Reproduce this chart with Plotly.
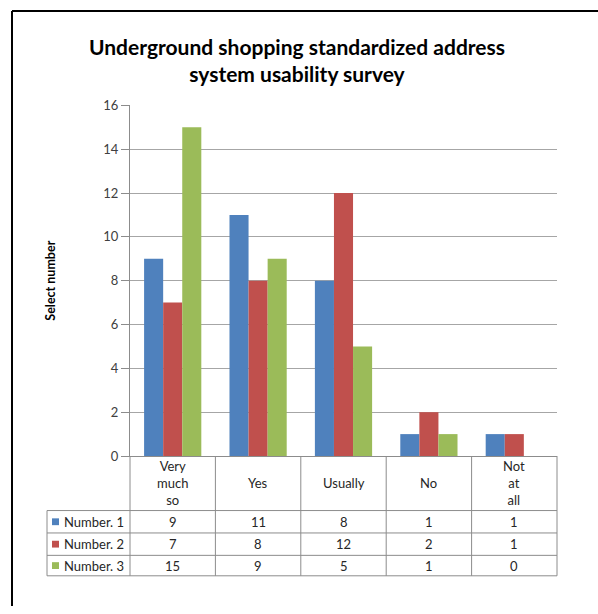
import plotly.graph_objects as go

categories = ["Very much so", "Yes", "Usually", "No", "Not at all"]
header_labels = ["Very<br>much<br>so", "Yes", "Usually", "No", "Not<br>at<br>all"]
series_names = ["Number. 1", "Number. 2", "Number. 3"]
number1 = [9, 11, 8, 1, 1]
number2 = [7, 8, 12, 2, 1]
number3 = [15, 9, 5, 1, 0]
series_values = [number1, number2, number3]
colors = ["#4F81BD", "#C0504D", "#9BBB59"]
y_ticks = [0, 2, 4, 6, 8, 10, 12, 14, 16]

W, H = 598, 614
FONT = "Lato"
GRID = "#a6a6a6"
TBL = "#8c8c8c"


def px(x):
    return x / W


def py(y):
    return 1 - y / H


fig = go.Figure()
for name, vals, col in zip(series_names, series_values, colors):
    fig.add_trace(go.Bar(x=categories, y=vals, name=name, marker=dict(color=col, line=dict(width=0))))

shapes = []
annotations = []

# outer frame (top & left)
shapes.append(dict(type="line", xref="paper", yref="paper", x0=px(12), x1=1, y0=py(3), y1=py(3),
                   line=dict(color="black", width=2)))
shapes.append(dict(type="line", xref="paper", yref="paper", x0=px(12), x1=px(12), y0=py(3), y1=0,
                   line=dict(color="black", width=2)))

# data table geometry
x_left, x_axis, x_right = 47, 130, 557
y_top, y_head, rows = 460, 516, [516, 539, 562, 583]
n = len(categories)
cw = (x_right - x_axis) / n

for yy in rows:
    shapes.append(dict(type="line", xref="paper", yref="paper", x0=px(x_left), x1=px(x_right),
                       y0=py(yy), y1=py(yy), line=dict(color=TBL, width=1)))
shapes.append(dict(type="line", xref="paper", yref="paper", x0=px(x_left), x1=px(x_left),
                   y0=py(y_head), y1=py(rows[-1]), line=dict(color=TBL, width=1)))
for i in range(n + 1):
    xx = x_axis + i * cw
    shapes.append(dict(type="line", xref="paper", yref="paper", x0=px(xx), x1=px(xx),
                       y0=py(y_top), y1=py(rows[-1]), line=dict(color=TBL, width=1)))

# header labels
for i, lab in enumerate(header_labels):
    annotations.append(dict(x=i, xref="x", y=py((y_top + y_head) / 2), yref="paper", text=lab,
                            showarrow=False, xanchor="center", yanchor="middle",
                            font=dict(family=FONT, size=13, color="#262626")))

# rows
for r, (name, vals, col) in enumerate(zip(series_names, series_values, colors)):
    yc = (rows[r] + rows[r + 1]) / 2
    shapes.append(dict(type="rect", xref="paper", yref="paper", x0=px(52), x1=px(59),
                       y0=py(yc + 3.5), y1=py(yc - 3.5), fillcolor=col, line=dict(width=0)))
    annotations.append(dict(x=px(62), xref="paper", y=py(yc), yref="paper", text=name,
                            showarrow=False, xanchor="left", yanchor="middle",
                            font=dict(family=FONT, size=13, color="#262626")))
    for i, v in enumerate(vals):
        annotations.append(dict(x=i, xref="x", y=py(yc), yref="paper", text=str(v),
                                showarrow=False, xanchor="center", yanchor="middle",
                                font=dict(family=FONT, size=13, color="#262626")))

# title
annotations.append(dict(x=px(297), xref="paper", y=py(53), yref="paper",
                        text="<b>Underground shopping standardized address<br>system usability survey</b>",
                        showarrow=False, xanchor="center", yanchor="middle",
                        font=dict(family=FONT, size=21, color="black")))
# y title
annotations.append(dict(x=px(51), xref="paper", y=py(280), yref="paper", text="<b>Select number</b>",
                        textangle=-90, showarrow=False, xanchor="center", yanchor="middle",
                        font=dict(family=FONT, size=12.5, color="black")))

fig.update_layout(
    width=W, height=H,
    margin=dict(l=0, r=0, t=0, b=0),
    paper_bgcolor="white", plot_bgcolor="white",
    barmode="group", bargap=0.33, bargroupgap=0,
    showlegend=False,
    shapes=shapes, annotations=annotations,
    xaxis=dict(domain=[px(x_axis), px(x_right)], showticklabels=False, ticks="",
               showline=True, linecolor=TBL, linewidth=1, showgrid=False, fixedrange=True),
    yaxis=dict(domain=[py(y_top), py(100)], range=[0, 16], tickvals=y_ticks,
               showgrid=True, gridcolor=GRID, gridwidth=1, zeroline=False,
               showline=True, linecolor=TBL, linewidth=1, ticks="outside", ticklen=8,
               tickcolor=TBL, tickfont=dict(family=FONT, size=13, color="#404040"), fixedrange=True),
)

fig.write_html("out.html")
